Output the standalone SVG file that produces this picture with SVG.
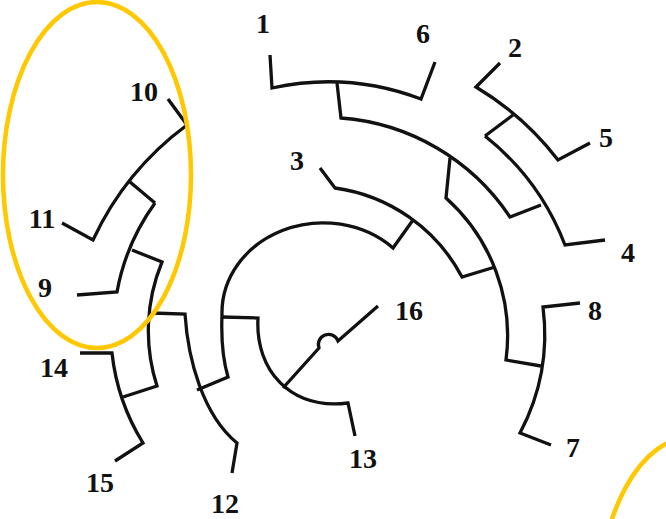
<svg xmlns="http://www.w3.org/2000/svg" width="666" height="519" viewBox="0 0 666 519">
<style>
.e{fill:none;stroke:#111;stroke-width:3.3;stroke-linejoin:miter;stroke-linecap:butt}
.hl{fill:none;stroke:#FFC800;stroke-width:4.5}
.t{font-family:"Liberation Serif","Times New Roman",serif;font-size:28px;font-weight:bold;fill:#111;text-anchor:middle}
</style>
<rect width="666" height="519" fill="#fff"/>
<g id="connectors">
<path class="e" d="M270,55 L272,88 A262,262 0 0 1 421,99 L435,62"/>
<path class="e" d="M337,83 L341,118 A223,223 0 0 1 510,217 L541,205"/>
<path class="e" d="M485,136 A256,256 0 0 1 565,245 L605,240"/>
<path class="e" d="M500,63 L476,87 A294,294 0 0 1 558,160 L590,143"/>
<path class="e" d="M513,115 L485,136"/>
<path class="e" d="M450,158 L446,198 A185,185 0 0 1 506,360 L541,366"/>
<path class="e" d="M580,303 L543,307 A212,212 0 0 1 520,433 L551,445"/>
<path class="e" d="M495,267 L462,277 A170,170 0 0 0 335,188 L320,168"/>
<path class="e" d="M413,220 L393,248 A101,90 0 0 0 222,315 C221,340 223,360 228,377 L197,390"/>
<path class="e" d="M152,313 L185,314 C188,360 203,415 237,443 L232,473"/>
<path class="e" d="M222,317 L258,318 C255,370 290,410 348,403 L355,436"/>
<path class="e" d="M283,388 L319,348 A10,10 0 0 1 338,341 L378,306"/>
<path class="e" d="M132,250 L162,262 A180,180 0 0 0 157,386 L123,397"/>
<path class="e" d="M80,353 L112,353 A215,215 0 0 0 143,443 L115,461"/>
<path class="e" d="M155,203 A218,218 0 0 0 117,292 L77,295"/>
<path class="e" d="M168,99 L187,125 A300,300 0 0 0 93,240 L62,223"/>
<path class="e" d="M130,182 L155,203"/>
</g>
<g id="n1"><text class="t" x="263" y="33">1</text></g>
<g id="n2"><text class="t" x="515" y="57">2</text></g>
<g id="n3"><text class="t" x="297" y="170">3</text></g>
<g id="n4"><text class="t" x="628" y="262">4</text></g>
<g id="n5"><text class="t" x="606" y="147">5</text></g>
<g id="n6"><text class="t" x="423" y="43">6</text></g>
<g id="n7"><text class="t" x="573" y="457">7</text></g>
<g id="n8"><text class="t" x="595" y="320">8</text></g>
<g id="n9"><text class="t" x="45" y="297">9</text></g>
<g id="n10"><text class="t" x="144" y="101">10</text></g>
<g id="n11"><text class="t" x="42" y="228">11</text></g>
<g id="n12"><text class="t" x="225" y="513">12</text></g>
<g id="n13"><text class="t" x="363" y="468">13</text></g>
<g id="n14"><text class="t" x="54" y="377">14</text></g>
<g id="n15"><text class="t" x="100" y="492">15</text></g>
<g id="n16"><text class="t" x="409" y="320">16</text></g>
<g id="highlights">
<ellipse class="hl" cx="97" cy="175" rx="94" ry="173"/>
<ellipse class="hl" cx="692" cy="610" rx="94" ry="173"/>
</g>
</svg>
